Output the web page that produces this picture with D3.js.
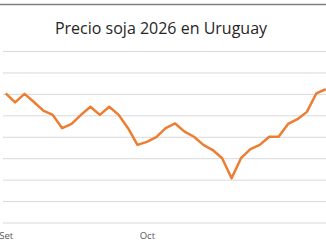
<!DOCTYPE html>
<html>
<head>
<meta charset="utf-8">
<script src="https://cdn.jsdelivr.net/npm/d3@7"></script>
<style>
  body { margin: 0; background: #fff; }
  svg { display: block; }
</style>
</head>
<body>
<div id="chart_area"></div>
<script>
// data (USD/t)
var dias = d3.range(35)
var precios = [360.1, 358.0, 360.0, 358.1, 356.1, 355.1, 352.0, 353.0, 355.1, 357.0,
               355.1, 357.0, 355.1, 352.0, 348.1, 348.8, 349.9, 352.0, 353.1, 351.2,
               350.0, 348.1, 346.9, 345.0, 340.3, 345.0, 347.1, 348.1, 350.0, 350.0,
               353.0, 354.1, 355.8, 360.1, 361.1]
var mesTicks = [0, 15]
var mesLabels = ["Set", "Oct"]
var yTicks = [330, 335, 340, 345, 350, 355, 360, 365, 370]
var titulo = "Precio soja 2026 en Uruguay"

var width = 326, height = 245

var svg = d3.select("#chart_area")
  .append("svg")
    .attr("width", width)
    .attr("height", height)

// frame line on top
svg.append("line")
  .attr("x1", 0).attr("x2", width)
  .attr("y1", 4.5).attr("y2", 4.5)
  .attr("stroke", "#7f7f7f")
  .attr("stroke-width", 1.5)

var x = d3.scaleLinear()
    .domain([0, 34])
    .range([5.7, 325.7])

var y = d3.scaleLinear()
    .domain([330, 370])
    .range([222.5, 51])

// gridlines
svg.append("g")
  .attr("transform", "translate(3,0)")
  .call(d3.axisLeft(y).tickValues(yTicks).tickSize(-(width - 3)).tickFormat(""))
  .call(g => g.select(".domain").remove())
  .call(g => g.selectAll("line").attr("stroke", "#d9d9d9").attr("stroke-width", 1))

// x labels
svg.append("g")
  .attr("transform", "translate(0,226)")
  .call(d3.axisBottom(x).tickValues(mesTicks).tickSize(0).tickPadding(6)
    .tickFormat(function(d, i){ return mesLabels[i] }))
  .call(g => g.select(".domain").remove())
  .call(g => g.selectAll("text")
    .attr("fill", "#595959")
    .style("font-family", "'Open Sans', sans-serif")
    .style("font-size", "9.5px"))

// line
var line = d3.line()
    .x(function(d, i){ return x(dias[i]) })
    .y(function(d){ return y(d) })

svg.append("path")
  .datum(precios)
  .attr("fill", "none")
  .attr("stroke", "#ed7d31")
  .attr("stroke-width", 2.5)
  .attr("stroke-linejoin", "round")
  .attr("d", line)

// title
svg.append("text")
  .attr("x", 161)
  .attr("y", 34)
  .attr("text-anchor", "middle")
  .attr("fill", "#262626")
  .style("font-family", "'Open Sans', sans-serif")
  .style("font-size", "16px")
  .text(titulo)
</script>
</body>
</html>
